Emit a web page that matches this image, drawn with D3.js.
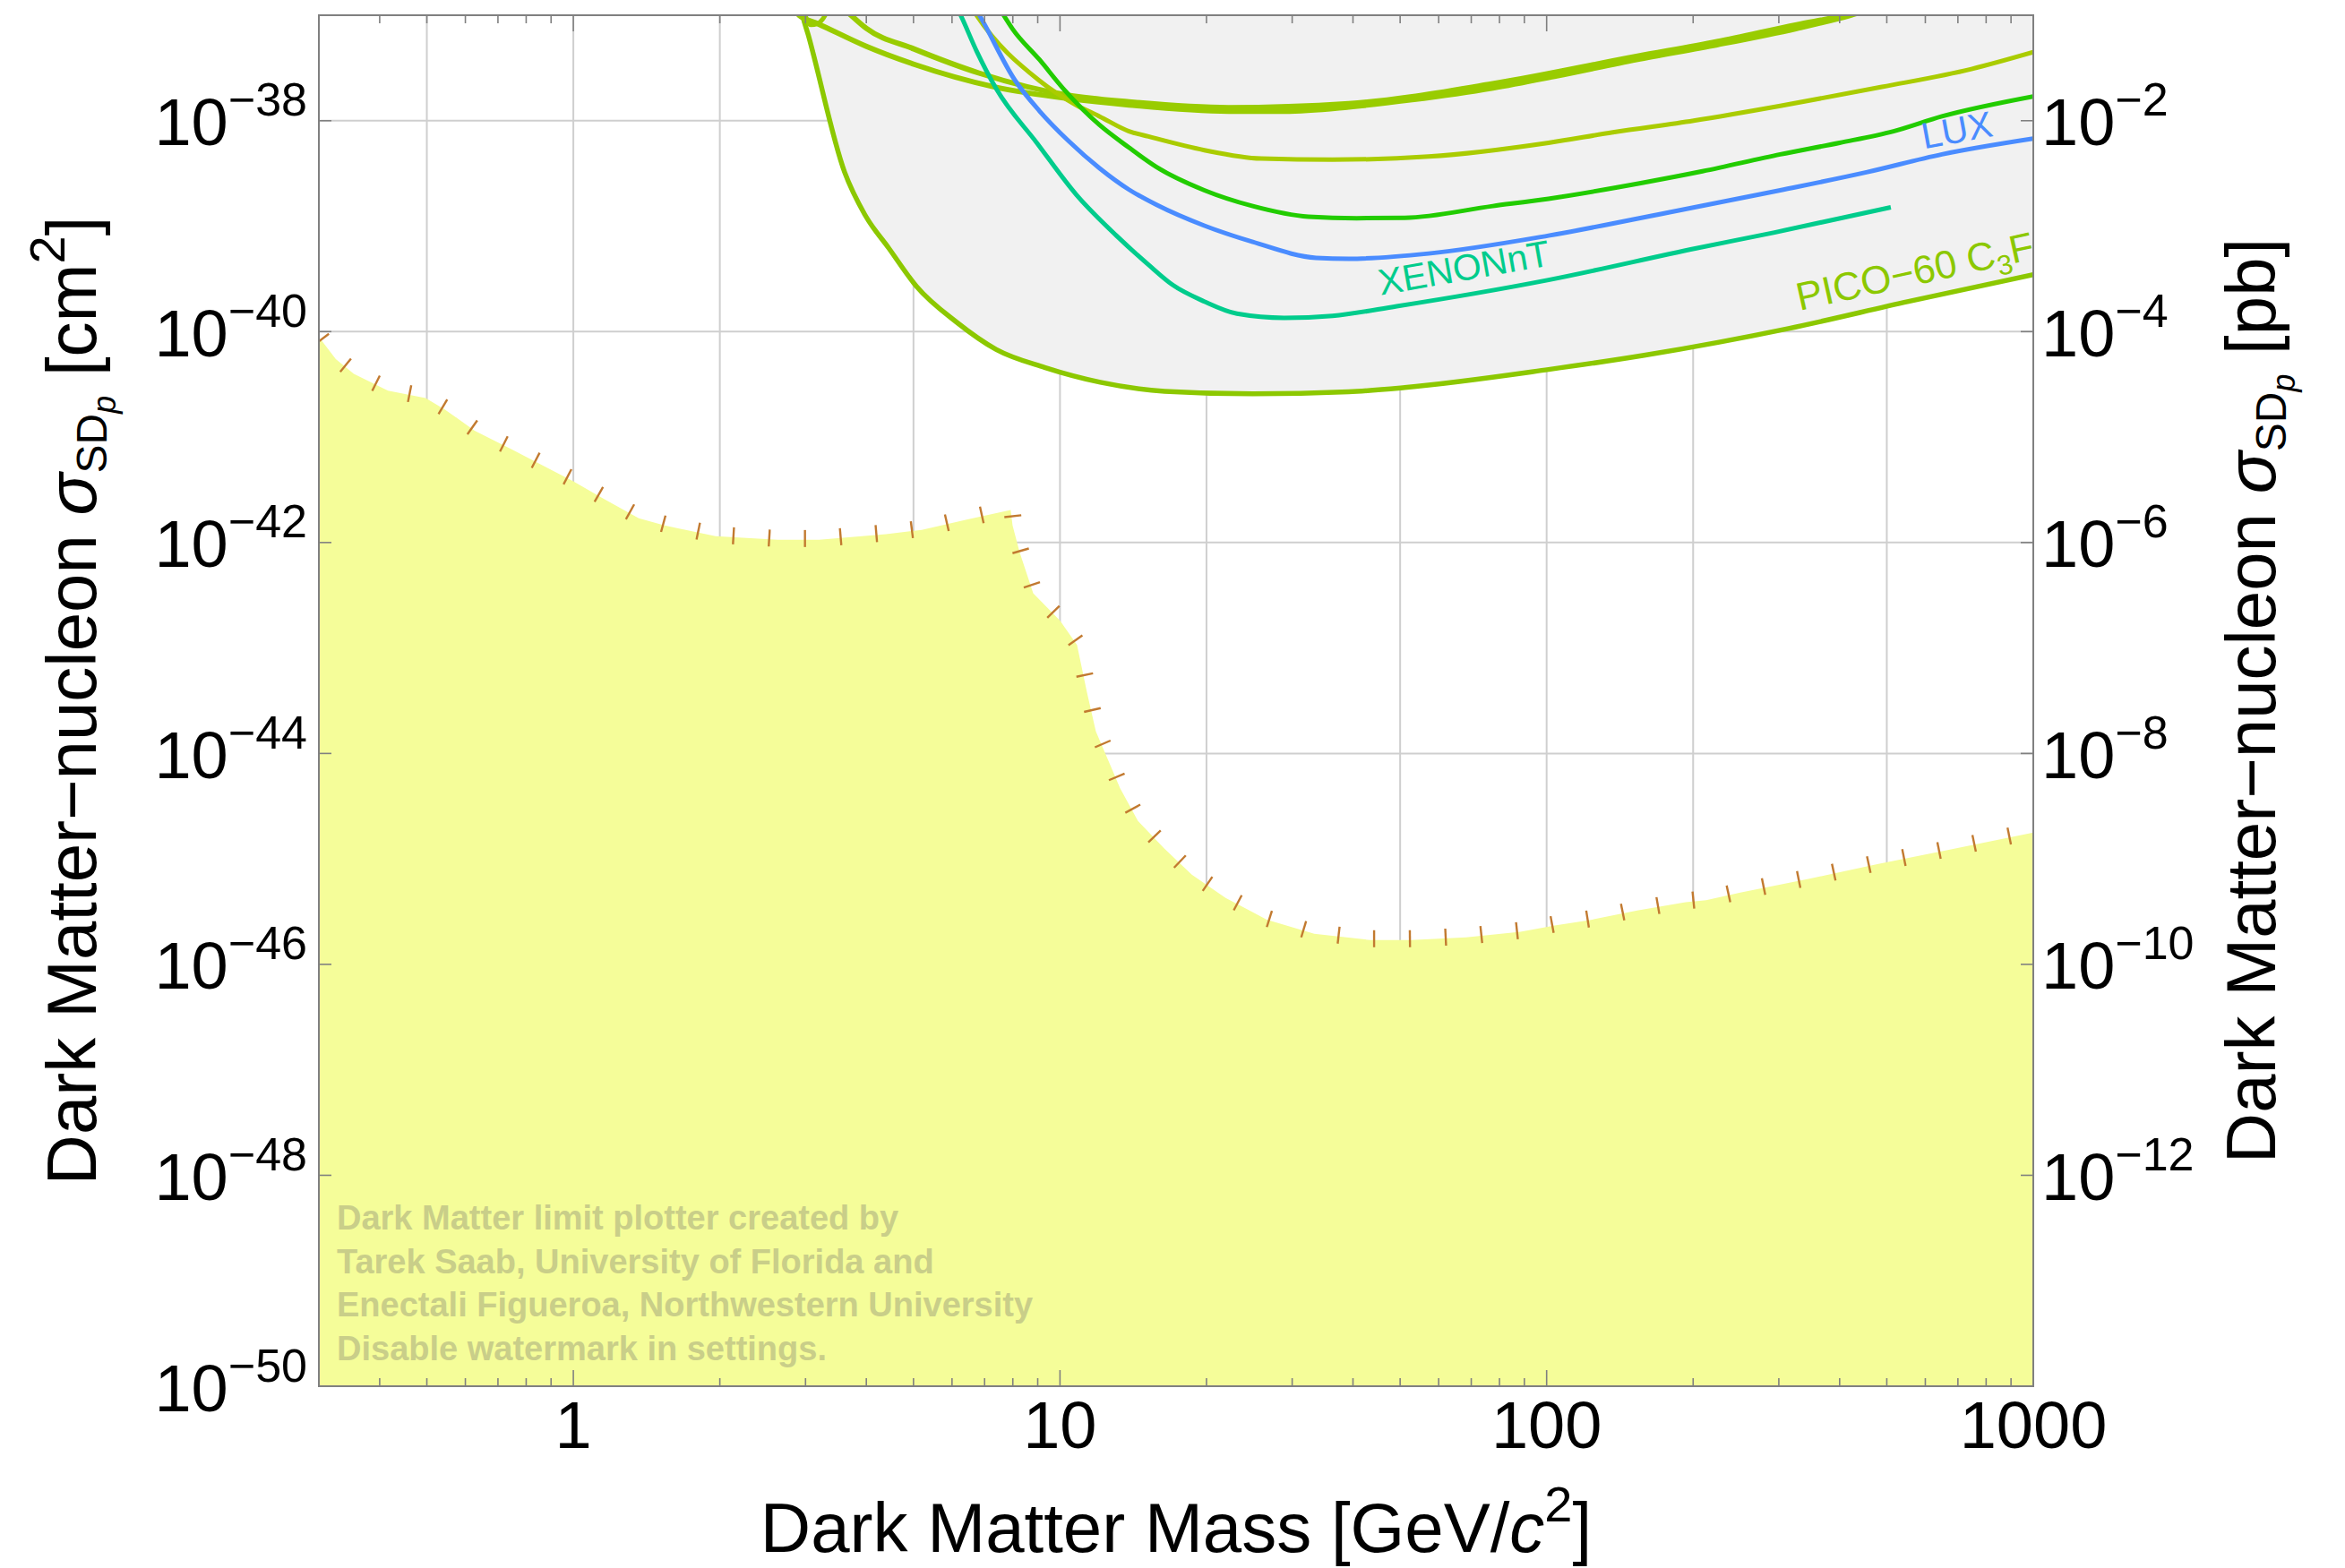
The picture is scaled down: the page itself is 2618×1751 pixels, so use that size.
<!DOCTYPE html>
<html>
<head>
<meta charset="utf-8">
<script src="https://cdn.jsdelivr.net/npm/d3@7"></script>
<style>
  html, body { margin: 0; padding: 0; background: #ffffff; }
  svg { display: block; }
</style>
</head>
<body>
<svg id="chart" width="2618" height="1751"></svg>
<script>
// ---------------- DATA ----------------
const massDomain = [0.3, 1000];          // GeV/c^2
const sigmaDomain = [1e-50, 1e-37];      // cm^2

const xTickValues = [1, 10, 100, 1000];
const xTickLabels = ["1", "10", "100", "1000"];
const xGridValues = [0.5, 1, 2, 5, 10, 20, 50, 100, 200, 500];

const yTickExponents = [-50, -48, -46, -44, -42, -40, -38];
const yLeftLabels = ["−50", "−48", "−46", "−44", "−42", "−40", "−38"];
const yRightLabels = ["", "−12", "−10", "−8", "−6", "−4", "−2"];
const yGridExponents = [-48, -46, -44, -42, -40, -38];

// PICO-60 C3F8
const pico60C3F8 = [
  [2.93, 1.3e-37], [2.96, 1.0e-37], [3.04, 6.46e-38], [3.61, 3.24e-39], [3.97, 1.29e-39],
  [4.45, 6.17e-40], [5.07, 2.69e-40], [6.13, 1.23e-40], [7.40, 6.76e-41], [9.30, 4.57e-41],
  [12.1, 3.31e-41], [16.4, 2.72e-41], [24.9, 2.57e-41], [39.2, 2.69e-41], [51.1, 2.95e-41],
  [100.9, 4.37e-41], [158.6, 5.96e-41], [314, 1.07e-40], [554, 1.93e-40], [1000, 3.47e-40]
];
// XENONnT
const xenonNT = [
  [6.1, 1.25e-37], [6.25, 1.0e-37], [6.74, 4.57e-38], [7.40, 2.0e-38], [8.96, 6.17e-39],
  [10.79, 2.0e-39], [13.06, 8.13e-40], [15.2, 4.30e-40], [17.0, 2.79e-40], [19.8, 1.93e-40],
  [23.1, 1.48e-40], [28.9, 1.35e-40], [36.3, 1.41e-40], [49.2, 1.74e-40], [100.9, 3.09e-40],
  [203, 6.17e-40], [294, 8.71e-40], [509.6, 1.51e-39]
];
// LUX
const lux = [
  [6.6, 1.3e-37], [6.83, 1.0e-37], [8.09, 2.40e-38], [9.07, 1.24e-38], [10.43, 6.38e-39],
  [12.05, 3.55e-39], [13.86, 2.22e-39], [15.8, 1.59e-39], [19.8, 1.01e-39], [24.9, 7.08e-40],
  [33.6, 5.01e-40], [39.2, 4.90e-40], [57.2, 5.50e-40], [100.9, 8.13e-40], [178, 1.35e-39],
  [302, 2.19e-39], [454, 3.24e-39], [649, 4.79e-39], [1000, 6.76e-39]
];
// green limit (unlabelled)
const greenLimit = [
  [7.4, 1.3e-37], [7.66, 1.0e-37], [7.99, 7.41e-38], [9.07, 3.80e-38], [10.17, 2.0e-38],
  [12.05, 9.12e-39], [13.86, 5.56e-39], [15.8, 3.63e-39], [19.8, 2.19e-39], [24.9, 1.55e-39],
  [32.4, 1.23e-39], [40.7, 1.19e-39], [51.1, 1.20e-39], [77.5, 1.55e-39], [100.9, 1.82e-39],
  [157, 2.57e-39], [209, 3.31e-39], [302, 4.79e-39], [400, 6.17e-39], [516, 7.94e-39],
  [649, 1.10e-38], [1000, 1.70e-38]
];
// olive limit (unlabelled)
const oliveLimit = [
  [6.5, 1.3e-37], [6.74, 1.0e-37], [9.07, 2.40e-38], [10.79, 1.41e-38], [12.05, 1.10e-38],
  [13.86, 7.94e-39], [15.2, 7.08e-39], [19.8, 5.25e-39], [25.9, 4.37e-39], [36.3, 4.27e-39],
  [57.2, 4.57e-39], [100.9, 6.17e-39], [136.8, 7.76e-39], [200.5, 1.0e-38], [302, 1.38e-38],
  [488.6, 2.09e-38], [746, 3.09e-38], [1000, 4.47e-38]
];
// thick pair of upper limits
const upperPairLow = [
  [2.85, 1.15e-37], [2.91, 1.0e-37], [3.18, 8.32e-38], [4.0, 5.07e-38], [5.01, 3.43e-38],
  [7.34, 2.09e-38], [10.43, 1.62e-38], [13.86, 1.41e-38], [22.2, 1.23e-38], [29.0, 1.23e-38],
  [39.2, 1.35e-38], [52.9, 1.58e-38], [77.5, 2.04e-38], [104.8, 2.66e-38], [152.9, 3.80e-38],
  [223.9, 5.25e-38], [326.5, 7.50e-38], [421, 1.0e-37], [480, 1.2e-37]
];
const upperPairHigh = [
  [3.6, 1.15e-37], [3.72, 1.0e-37], [4.0, 7.50e-38], [5.01, 4.79e-38], [6.83, 2.82e-38],
  [10.43, 1.74e-38], [13.86, 1.51e-38], [22.2, 1.33e-38], [39.2, 1.45e-38], [77.5, 2.24e-38],
  [152.9, 4.07e-38], [223.9, 5.62e-38], [326.5, 8.13e-38], [410, 1.0e-37], [470, 1.2e-37]
];
// small loop at top
const smallLoop = [
  [2.98, 1.1e-37], [3.02, 9.0e-38], [3.08, 8.1e-38], [3.17, 8.3e-38], [3.26, 9.3e-38], [3.33, 1.1e-37]
];

// yellow region upper boundary
const yellowBoundary = [
  [0.300, 8.91e-41], [0.325, 5.50e-41], [0.354, 3.98e-41], [0.416, 2.75e-41], [0.497, 2.34e-41],
  [0.545, 1.82e-41], [0.627, 1.15e-41], [0.753, 7.50e-42], [1.0, 3.80e-42], [1.15, 2.63e-42],
  [1.363, 1.70e-42], [1.54, 1.45e-42], [1.96, 1.15e-42], [2.63, 1.06e-42], [3.20, 1.06e-42],
  [4.39, 1.20e-42], [5.20, 1.32e-42], [6.46, 1.66e-42], [7.92, 2.04e-42], [7.99, 1.45e-42],
  [8.26, 8.13e-43], [8.81, 3.31e-43], [10.0, 1.82e-43], [10.84, 1.07e-43], [11.36, 3.80e-44],
  [11.85, 1.62e-44], [12.58, 8.51e-45], [13.29, 4.68e-45], [14.46, 2.29e-45], [16.36, 1.26e-45],
  [18.66, 7.08e-46], [21.9, 4.27e-46], [26.6, 2.66e-46], [33.3, 1.95e-46], [43.4, 1.70e-46],
  [52.7, 1.70e-46], [68.3, 1.80e-46], [88.4, 2.04e-46], [103.9, 2.34e-46], [122.6, 2.63e-46],
  [153.5, 3.24e-46], [193, 3.89e-46], [212.7, 4.07e-46], [250, 4.79e-46], [345, 6.46e-46],
  [478, 8.91e-46], [660, 1.20e-45], [1000, 1.78e-45]
];

const seriesList = [
  { name: "pico60", data: pico60C3F8, color: "#8cc800", width: 5.5 },
  { name: "upperLow", data: upperPairLow, color: "#99cc00", width: 6 },
  { name: "upperHigh", data: upperPairHigh, color: "#99cc00", width: 6 },
  { name: "loop", data: smallLoop, color: "#99cc00", width: 5 },
  { name: "olive", data: oliveLimit, color: "#aacc00", width: 5 },
  { name: "green", data: greenLimit, color: "#22cc00", width: 5 },
  { name: "lux", data: lux, color: "#4a8cff", width: 5 },
  { name: "xenon", data: xenonNT, color: "#00cc8c", width: 5 }
];

const curveLabels = [
  { series: "xenon", parts: [["XENONnT", 0]], mass: 45.6, sigma: 2.21e-40, color: "#00cc8c", size: 41 },
  { series: "lux", parts: [["LUX", 0]], mass: 596, sigma: 5.4e-39, color: "#4a8cff", size: 41 },
  { series: "pico60", parts: [["PICO−60 C", 0], ["3", 1], ["F", 0], ["8", 1]], mass: 331, sigma: 1.58e-40, color: "#8cc800", size: 44 }
];

const watermarkLines = [
  "Dark Matter limit plotter created by",
  "Tarek Saab, University of Florida and",
  "Enectali Figueroa, Northwestern University",
  "Disable watermark in settings."
];

// ---------------- LAYOUT ----------------
const FONT = "'Liberation Sans', Arial, Helvetica, sans-serif";
const plot = { left: 356, right: 2270, top: 17, bottom: 1548 };

const x = d3.scaleLog().domain(massDomain).range([plot.left, plot.right]);
const y = d3.scaleLog().domain(sigmaDomain).range([plot.bottom, plot.top]);

const svg = d3.select("#chart");
svg.append("rect").attr("width", 2618).attr("height", 1751).attr("fill", "#ffffff");

svg.append("defs").append("clipPath").attr("id", "plotClip")
  .append("rect")
  .attr("x", plot.left).attr("y", plot.top)
  .attr("width", plot.right - plot.left).attr("height", plot.bottom - plot.top);

const g = svg.append("g").attr("clip-path", "url(#plotClip)");

// gridlines
g.append("g").selectAll("line").data(xGridValues).join("line")
  .attr("x1", d => x(d)).attr("x2", d => x(d))
  .attr("y1", plot.top).attr("y2", plot.bottom)
  .attr("stroke", "#cfcfcf").attr("stroke-width", 2);
g.append("g").selectAll("line").data(yGridExponents).join("line")
  .attr("x1", plot.left).attr("x2", plot.right)
  .attr("y1", d => y(Math.pow(10, d))).attr("y2", d => y(Math.pow(10, d)))
  .attr("stroke", "#cfcfcf").attr("stroke-width", 2);

// gray excluded regions (above each limit)
const topPx = y.range()[1] - 40;
const areaAbove = d3.area().x(d => x(d[0])).y0(topPx).y1(d => y(d[1])).curve(d3.curveMonotoneX);
g.append("g").selectAll("path").data(seriesList).join("path")
  .attr("d", s => areaAbove(s.data))
  .attr("fill", "#f1f1f1").attr("stroke", "none");

// yellow region
const areaBelow = d3.area().x(d => x(d[0])).y0(plot.bottom + 10).y1(d => y(d[1]));
g.append("path").attr("d", areaBelow(yellowBoundary)).attr("fill", "#f5fd99");

// hatch marks along yellow boundary
const lineLin = d3.line().x(d => x(d[0])).y(d => y(d[1]));
const bPath = g.append("path").attr("d", lineLin(yellowBoundary)).attr("fill", "none").attr("stroke", "none");
const node = bPath.node();
const totalLen = node.getTotalLength();
const hatches = [];
for (let l = 4; l < totalLen; l += 40) {
  const p = node.getPointAtLength(l);
  const a = node.getPointAtLength(Math.max(0, l - 3));
  const b = node.getPointAtLength(Math.min(totalLen, l + 3));
  let tx = b.x - a.x, ty = b.y - a.y;
  const n = Math.hypot(tx, ty) || 1; tx /= n; ty /= n;
  const nx = ty, ny = -tx;
  hatches.push({ x1: p.x - 8 * nx, y1: p.y - 8 * ny, x2: p.x + 11 * nx, y2: p.y + 11 * ny });
}
g.append("g").selectAll("line").data(hatches).join("line")
  .attr("x1", d => d.x1).attr("y1", d => d.y1).attr("x2", d => d.x2).attr("y2", d => d.y2)
  .attr("stroke", "#c27a30").attr("stroke-width", 2.4);

// limit curves
const lineSmooth = d3.line().x(d => x(d[0])).y(d => y(d[1])).curve(d3.curveMonotoneX);
g.append("g").selectAll("path").data(seriesList).join("path")
  .attr("d", s => lineSmooth(s.data))
  .attr("fill", "none")
  .attr("stroke", s => s.color)
  .attr("stroke-width", s => s.width)
  .attr("stroke-linejoin", "round");

// curve labels
function sigmaAt(data, m) {
  const lm = Math.log10(Math.max(data[0][0], Math.min(data[data.length - 1][0], m)));
  for (let i = 0; i < data.length - 1; i++) {
    const l0 = Math.log10(data[i][0]), l1 = Math.log10(data[i + 1][0]);
    if (lm >= l0 && lm <= l1) {
      const t = (lm - l0) / (l1 - l0 || 1);
      return Math.pow(10, Math.log10(data[i][1]) + t * (Math.log10(data[i + 1][1]) - Math.log10(data[i][1])));
    }
  }
  return data[data.length - 1][1];
}
curveLabels.forEach(lab => {
  const s = seriesList.find(v => v.name === lab.series).data;
  const m1 = lab.mass, m2 = Math.min(lab.mass * 2.5, s[s.length - 1][0]);
  const ang = Math.atan2(y(sigmaAt(s, m2)) - y(sigmaAt(s, m1)), x(m2) - x(m1)) * 180 / Math.PI;
  const t = g.append("text")
    .attr("transform", `translate(${x(lab.mass)},${y(lab.sigma)}) rotate(${ang})`)
    .attr("font-family", FONT).attr("font-size", lab.size).attr("fill", lab.color);
  let prevSub = 0;
  lab.parts.forEach(([txt, sub]) => {
    const dy = (sub - prevSub) * 10;
    t.append("tspan").attr("dy", dy).attr("font-size", sub ? Math.round(lab.size * 0.7) : lab.size).text(txt);
    prevSub = sub;
  });
});

// watermark
const wm = svg.append("g");
watermarkLines.forEach((line, i) => {
  wm.append("text")
    .attr("x", plot.left + 20)
    .attr("y", plot.bottom - 175 + i * 48.5)
    .attr("font-family", FONT).attr("font-weight", "bold").attr("font-size", 38)
    .attr("fill", "#c9ce89")
    .text(line);
});

// frame
svg.append("rect")
  .attr("x", plot.left).attr("y", plot.top)
  .attr("width", plot.right - plot.left).attr("height", plot.bottom - plot.top)
  .attr("fill", "none").attr("stroke", "#808080").attr("stroke-width", 2);

// x ticks (bottom & top)
const xTicksAll = [];
[0.1, 1, 10, 100].forEach(dec => {
  for (let k = 1; k <= 9; k++) {
    const v = dec * k;
    if (v >= massDomain[0] - 1e-9 && v <= massDomain[1] + 1e-9) xTicksAll.push({ v, major: k === 1 });
  }
});
xTicksAll.push({ v: 1000, major: true });
const tickG = svg.append("g").attr("stroke", "#808080").attr("stroke-width", 1.6);
tickG.append("g").selectAll("line").data(xTicksAll).join("line")
  .attr("x1", d => x(d.v)).attr("x2", d => x(d.v))
  .attr("y1", plot.bottom).attr("y2", d => plot.bottom - (d.major ? 18 : 9));
tickG.append("g").selectAll("line").data(xTicksAll).join("line")
  .attr("x1", d => x(d.v)).attr("x2", d => x(d.v))
  .attr("y1", plot.top).attr("y2", d => plot.top + (d.major ? 18 : 9));
// y ticks (left & right)
yTickExponents.forEach(e => {
  const yy = y(Math.pow(10, e));
  tickG.append("line").attr("x1", plot.left).attr("x2", plot.left + 14).attr("y1", yy).attr("y2", yy);
  tickG.append("line").attr("x1", plot.right).attr("x2", plot.right - 14).attr("y1", yy).attr("y2", yy);
});

// x tick labels
svg.append("g").selectAll("text").data(xTickValues).join("text")
  .attr("x", d => x(d)).attr("y", plot.bottom + 69)
  .attr("text-anchor", "middle")
  .attr("font-family", FONT).attr("font-size", 74).attr("fill", "#000")
  .text((d, i) => xTickLabels[i]);

// y tick labels (left cm^2, right pb)
yTickExponents.forEach((e, i) => {
  const yy = y(Math.pow(10, e));
  const t = svg.append("text").attr("x", plot.left - 13).attr("y", yy + 27.5)
    .attr("text-anchor", "end").attr("font-family", FONT).attr("fill", "#000");
  t.append("tspan").attr("font-size", 74).text("10");
  t.append("tspan").attr("font-size", 52).attr("dy", -33).text(yLeftLabels[i]);
  if (yRightLabels[i]) {
    const r = svg.append("text").attr("x", plot.right + 9).attr("y", yy + 27.5)
      .attr("text-anchor", "start").attr("font-family", FONT).attr("fill", "#000");
    r.append("tspan").attr("font-size", 74).text("10");
    r.append("tspan").attr("font-size", 52).attr("dy", -33).text(yRightLabels[i]);
  }
});

// axis titles
const xt = svg.append("text")
  .attr("x", (plot.left + plot.right) / 2).attr("y", 1733)
  .attr("text-anchor", "middle").attr("font-family", FONT).attr("font-size", 78).attr("fill", "#000");
xt.append("tspan").text("Dark Matter Mass [GeV/");
xt.append("tspan").attr("font-style", "italic").text("c");
xt.append("tspan").attr("font-size", 56).attr("dy", -34).text("2");
xt.append("tspan").attr("dy", 34).text("]");

function yTitle(xPos, unitParts) {
  const t = svg.append("text")
    .attr("transform", `translate(${xPos},${(plot.top + plot.bottom) / 2}) rotate(-90)`)
    .attr("text-anchor", "middle").attr("font-family", FONT).attr("font-size", 78).attr("fill", "#000");
  t.append("tspan").text("Dark Matter−nucleon ");
  t.append("tspan").attr("font-style", "italic").text("σ");
  t.append("tspan").attr("font-size", 48).attr("dy", 12).text("SD");
  t.append("tspan").attr("font-size", 36).attr("font-style", "italic").attr("dy", 10).text("p");
  unitParts(t);
}
yTitle(107, t => {
  t.append("tspan").attr("dy", -22).text(" [cm");
  t.append("tspan").attr("font-size", 56).attr("dy", -35).text("2");
  t.append("tspan").attr("dy", 35).text("]");
});
yTitle(2540, t => {
  t.append("tspan").attr("dy", -22).text(" [pb]");
});
</script>
</body>
</html>
